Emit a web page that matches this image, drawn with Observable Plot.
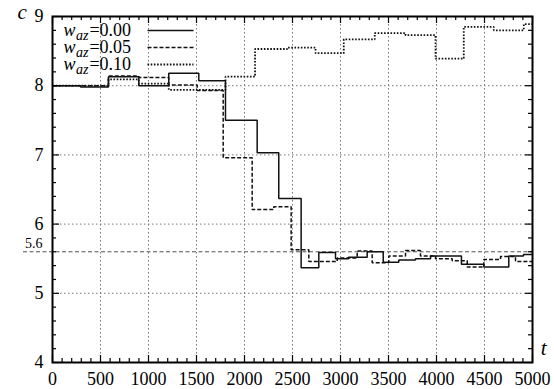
<!DOCTYPE html>
<html><head><meta charset="utf-8">
<script src="https://cdn.jsdelivr.net/npm/d3@7"></script>
<script src="https://cdn.jsdelivr.net/npm/@observablehq/plot@0.6"></script>
<style>body{margin:0;background:#fff} #chart{width:554px;height:389px}</style>
</head><body><div id="chart"></div>
<script>
// w_az = 0.00 (solid)
const t00 = [0, 292, 583, 899, 1211, 1524, 1802, 2132, 2357, 2590, 2774, 2948, 3083, 3278, 3445, 3607, 3781, 3938, 4260, 4493, 4753, 4906, 5000];
const c00 = [8.00, 7.98, 8.13, 8.00, 8.18, 8.07, 7.50, 7.03, 6.37, 5.37, 5.59, 5.50, 5.52, 5.60, 5.45, 5.48, 5.50, 5.54, 5.42, 5.38, 5.54, 5.56, 5.56];
// w_az = 0.05 (dashed)
const t05 = [0, 583, 899, 1211, 1507, 1778, 2080, 2305, 2486, 2670, 2966, 3174, 3330, 3503, 3677, 3833, 3990, 4164, 4320, 4493, 4667, 4823, 5000];
const c05 = [8.00, 8.14, 8.12, 8.01, 7.93, 6.96, 6.21, 6.25, 5.63, 5.46, 5.51, 5.61, 5.44, 5.54, 5.62, 5.54, 5.50, 5.47, 5.38, 5.49, 5.53, 5.46, 5.46];
// w_az = 0.10 (dotted)
const t10 = [0, 583, 899, 1211, 1802, 2110, 2445, 2740, 3034, 3357, 3677, 3990, 4284, 4597, 4909, 5000];
const c10 = [8.00, 8.09, 8.03, 7.94, 8.13, 8.53, 8.55, 8.47, 8.67, 8.76, 8.73, 8.39, 8.85, 8.80, 8.89, 8.89];

const seriesNames = ["0.00", "0.05", "0.10"];
const seriesDash = [null, "4,2", "1.6,1.6"];
const refLine = [5.6];
const xMajor = [0, 500, 1000, 1500, 2000, 2500, 3000, 3500, 4000, 4500, 5000];
const xMinor = d3.range(0, 5001, 100).filter(v => v % 500 !== 0);
const yMajor = [4, 5, 6, 7, 8, 9];
const yMinor = d3.range(0, 26).map(i => 4 + i * 0.2).filter((v, i) => i % 5 !== 0);

const toRows = (ts, cs) => ts.map((t, i) => ({t, c: cs[i]}));
const rows = [toRows(t00, c00), toRows(t05, c05), toRows(t10, c10)];

const W = 554, H = 389, mL = 52, mR = 22, mT = 16, mB = 27;
const fw = W - mL - mR, fh = H - mT - mB;
const grid = {stroke: "#777", strokeOpacity: 1, strokeDasharray: "1.5,2.5", strokeWidth: 1};
const legendDy = [14, 31, 48];
const lineShape = {draw(context, l) { context.moveTo(0, 0); context.lineTo(0, -l); }};
const tickStyle = {stroke: "#000", strokeWidth: 1.2};

const marks = [
  Plot.gridX(xMajor.slice(1, -1), grid),
  Plot.gridY(yMajor.slice(1, -1), grid),
  Plot.ruleY(refLine, {stroke: "#555", strokeDasharray: "4,2.5", strokeWidth: 1, insetLeft: -29}),
  Plot.text(refLine, {y: d => d, frameAnchor: "left", text: d => String(d), dx: -10, dy: -4, lineAnchor: "bottom", textAnchor: "end", fontSize: 14}),
  ...rows.map((r, i) => Plot.line(r, {x: "t", y: "c", curve: "step-after", stroke: "#111", strokeWidth: i === 2 ? 1.8 : 1.5, strokeDasharray: seriesDash[i], strokeLinecap: "butt", strokeLinejoin: "miter"})),
  // ticks, inward, all sides
  Plot.tickX(xMajor, {x: d => d, insetTop: fh - 7, ...tickStyle}),
  Plot.tickX(xMinor, {x: d => d, insetTop: fh - 4, ...tickStyle}),
  Plot.tickX(xMajor, {x: d => d, insetBottom: fh - 7, ...tickStyle}),
  Plot.tickX(xMinor, {x: d => d, insetBottom: fh - 4, ...tickStyle}),
  Plot.tickY(yMajor, {y: d => d, insetRight: fw - 7, ...tickStyle}),
  Plot.tickY(yMinor, {y: d => d, insetRight: fw - 4, ...tickStyle}),
  Plot.tickY(yMajor, {y: d => d, insetLeft: fw - 7, ...tickStyle}),
  Plot.tickY(yMinor, {y: d => d, insetLeft: fw - 4, ...tickStyle}),
  Plot.frame({stroke: "#000", strokeWidth: 2}),
  Plot.axisX({ticks: xMajor, tickSize: 0, tickPadding: 10, tickFormat: d => String(d), label: null, fontSize: 18}),
  Plot.axisY({ticks: yMajor, tickSize: 0, tickPadding: 9, tickFormat: d => String(d), label: null, fontSize: 18}),
  Plot.text(["c"], {frameAnchor: "top-left", dx: -35, dy: 2, lineAnchor: "bottom", fontStyle: "italic", fontSize: 21}),
  Plot.text(["t"], {frameAnchor: "bottom-right", dx: 14, dy: -8, lineAnchor: "bottom", fontStyle: "italic", fontSize: 21})
];

// legend rows: one text per row (subscript added below) + sample line
seriesNames.forEach((name, i) => {
  marks.push(
    Plot.text([name], {frameAnchor: "top-left", dx: 11, dy: legendDy[i] + 5, text: d => "w_az=" + d, lineAnchor: "bottom", textAnchor: "start", fontSize: 18}),
    Plot.vector([name], {frameAnchor: "top-left", dx: 95, dy: legendDy[i], length: 46, rotate: 90, anchor: "start", shape: lineShape, stroke: "#111", strokeWidth: i === 2 ? 1.8 : 1.5, strokeDasharray: seriesDash[i], strokeLinecap: "butt"})
  );
});

const chart = Plot.plot({
  width: W, height: H,
  marginLeft: mL, marginRight: mR, marginTop: mT, marginBottom: mB,
  x: {domain: [0, 5000]},
  y: {domain: [4, 9]},
  style: {fontFamily: "'Liberation Serif', serif", fontSize: "18px", color: "#000", background: "#fff"},
  marks
});
// turn "w_az=0.00" into w with italic subscript az
d3.select(chart).selectAll("text").each(function() {
  const s = this.textContent;
  if (!s.startsWith("w_az=")) return;
  const val = s.slice(4);
  const el = d3.select(this);
  el.text(null);
  el.append("tspan").attr("font-style", "italic").text("w");
  el.append("tspan").attr("font-style", "italic").attr("font-size", 14).attr("dx", 0.5).attr("dy", 4).text("az");
  el.append("tspan").attr("dx", 1).attr("dy", -4).text(val);
});
document.getElementById("chart").appendChild(chart);
</script>
</body></html>
